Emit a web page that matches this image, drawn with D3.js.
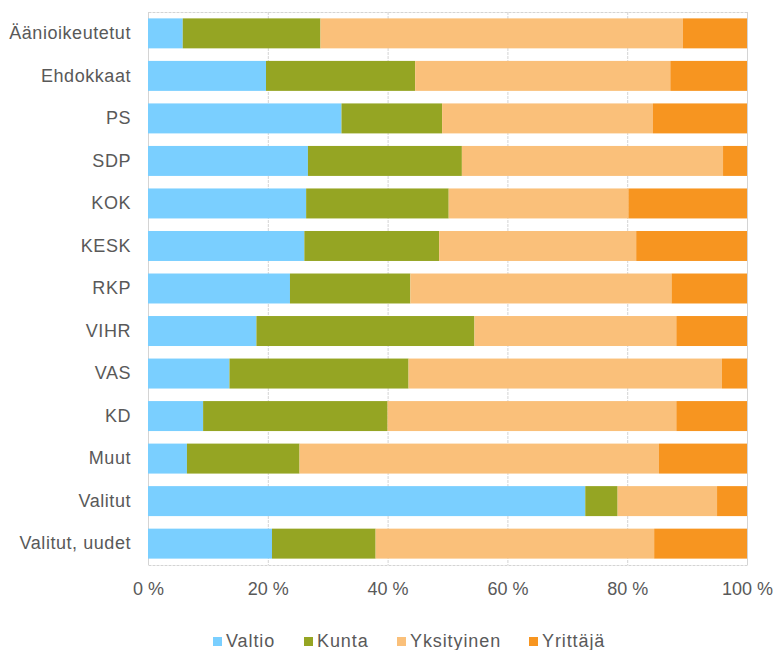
<!DOCTYPE html>
<html>
<head>
<meta charset="utf-8">
<script src="https://cdn.jsdelivr.net/npm/d3@7"></script>
<style>
  body { margin: 0; background: #fff; }
  text { font-family: "Liberation Sans", Arial, sans-serif; fill: #595959; }
</style>
</head>
<body>
<svg id="my-svg"></svg>
<script>
// party / group rows, top to bottom
const categories = ["Äänioikeutetut", "Ehdokkaat", "PS", "SDP", "KOK", "KESK", "RKP", "VIHR", "VAS", "KD", "Muut", "Valitut", "Valitut, uudet"];
const seriesNames = ["Valtio", "Kunta", "Yksityinen", "Yrittäjä"];
const seriesColors = ["#7acfff", "#95a523", "#fac07a", "#f79520"];

// shares in %
const valtio     = [5.8, 19.7, 32.3, 26.7, 26.4, 26.1, 23.7, 18.1, 13.6, 9.2, 6.5, 73.0, 20.7];
const kunta      = [23.0, 24.9, 16.8, 25.7, 23.8, 22.5, 20.1, 36.4, 29.9, 30.8, 18.8, 5.4, 17.3];
const yksityinen = [60.5, 42.6, 35.2, 43.6, 30.0, 32.9, 43.6, 33.7, 52.3, 48.2, 60.0, 16.6, 46.5];
const yrittaja   = [10.7, 12.8, 15.7, 4.0, 19.8, 18.5, 12.6, 11.8, 4.2, 11.8, 14.7, 5.0, 15.5];

const tickValues = [0, 0.2, 0.4, 0.6, 0.8, 1];

let oSvg = d3.select("#my-svg")
      .attr('width', 776)
      .attr('height', 650);

const pLeft = 148, pRight = 747, pTop = 12, pBottom = 565;

// normalise each row to 100 %
let rows = categories.map((c, i) => {
    let vals = [valtio[i], kunta[i], yksityinen[i], yrittaja[i]];
    let sum = d3.sum(vals);
    let o = { cat: c };
    seriesNames.forEach((s, j) => o[s] = vals[j] / sum);
    return o;
});

let stacked = d3.stack().keys(seriesNames)(rows);

let x = d3.scaleLinear().domain([0, 1]).range([pLeft, pRight]);
let y = d3.scaleBand().domain(categories).range([pTop, pBottom]).paddingInner(0.295).paddingOuter(0.15);

// grid
oSvg.append('g')
    .selectAll('line')
    .data(tickValues)
    .enter().append('line')
        .attr('x1', d => x(d) + 0.5)
        .attr('x2', d => x(d) + 0.5)
        .attr('y1', pTop)
        .attr('y2', pBottom)
        .attr('stroke', '#d4d4d4')
        .attr('stroke-dasharray', '3,1');

oSvg.append('rect')
    .attr('x', pLeft + 0.5)
    .attr('y', pTop + 0.5)
    .attr('width', pRight - pLeft)
    .attr('height', pBottom - pTop)
    .attr('fill', 'none')
    .attr('stroke', '#d4d4d4')
    .attr('stroke-dasharray', '3,1');

// bars
oSvg.append('g')
    .selectAll('g')
    .data(stacked)
    .enter().append('g')
        .attr('fill', (d, i) => seriesColors[i])
    .selectAll('rect')
    .data(d => d)
    .enter().append('rect')
        .attr('x', d => x(d[0]))
        .attr('y', d => y(d.data.cat))
        .attr('width', d => x(d[1]) - x(d[0]))
        .attr('height', y.bandwidth());

// category labels
let yAxis = oSvg.append('g')
    .attr('transform', `translate(${pLeft},0)`)
    .call(d3.axisLeft(y).tickSize(0).tickPadding(17));
yAxis.select('.domain').remove();
yAxis.selectAll('text')
    .attr('font-size', 18)
    .attr('letter-spacing', 0.55)
    .attr('font-family', '"Liberation Sans", Arial, sans-serif')
    .attr('fill', '#595959');

// x axis labels
let xAxis = oSvg.append('g')
    .attr('transform', `translate(0,${pBottom})`)
    .call(d3.axisBottom(x).tickValues(tickValues).tickSize(0).tickPadding(17)
          .tickFormat(d => Math.round(d * 100) + ' %'));
xAxis.select('.domain').remove();
xAxis.selectAll('text')
    .attr('font-size', 18)
    .attr('font-family', '"Liberation Sans", Arial, sans-serif')
    .attr('fill', '#595959');

// legend
const legendX = [213, 304, 397, 529];
let legend = oSvg.append('g')
    .selectAll('g')
    .data(seriesNames)
    .enter().append('g')
        .attr('transform', (d, i) => `translate(${legendX[i]},641)`);
legend.append('rect')
    .attr('x', 0).attr('y', -4)
    .attr('width', 9).attr('height', 9)
    .attr('fill', (d, i) => seriesColors[i]);
legend.append('text')
    .attr('x', 13)
    .attr('y', 0)
    .attr('dy', '0.35em')
    .attr('font-size', 18)
    .attr('letter-spacing', 0.9)
    .text(d => d);
</script>
</body>
</html>
